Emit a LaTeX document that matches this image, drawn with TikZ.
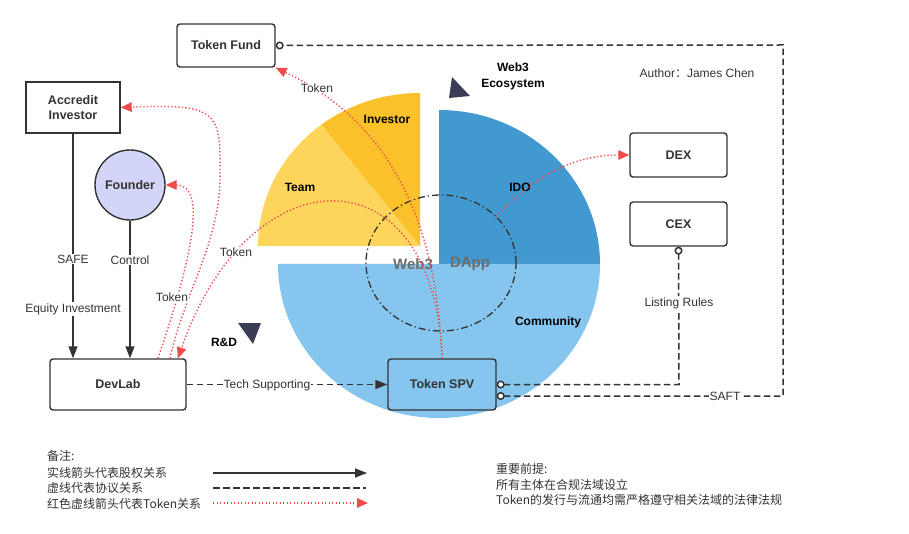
\documentclass[tikz,border=0pt]{standalone}
\usepackage{fontspec}
\setmainfont{Liberation Sans}
\newfontfamily\cjk{Noto Sans CJK SC}
\usetikzlibrary{arrows.meta,shapes.geometric}
\definecolor{ink}{HTML}{333333}
\definecolor{tokred}{HTML}{EE4B4B}
\definecolor{teamc}{HTML}{FDD55B}
\definecolor{invc}{HTML}{FBC12B}
\definecolor{idoc}{HTML}{4299CF}
\definecolor{comc}{HTML}{85C5EE}
\definecolor{tric}{HTML}{3A3D55}
\definecolor{founderc}{HTML}{D2D5F7}
\definecolor{webgray}{HTML}{6B6B6B}
\begin{document}
\begin{tikzpicture}[x=1pt,y=-1pt,
  box/.style={draw=ink, line width=1.4pt, rounded corners=3pt, fill=white, inner sep=0pt,
    font=\fontsize{12.5}{15}\selectfont\bfseries, text=ink, align=center},
  sqbox/.style={box, rounded corners=0pt},
  lbl/.style={font=\fontsize{12}{14}\selectfont, text=ink, fill=white, inner sep=1pt},
  pielbl/.style={font=\fontsize{12}{16}\selectfont\bfseries, text=black, align=center},
  own/.style={draw=ink, line width=1.4pt, -{Triangle[length=12pt,width=9pt]}},
  agree/.style={draw=ink, line width=1.5pt, dash pattern=on 6.5pt off 3.5pt},
  tok/.style={draw=tokred, line width=1.4pt, dash pattern=on 1.3pt off 2.2pt, -{Triangle[length=11pt,width=9.5pt]}},
  note/.style={font=\cjk\fontsize{12}{15}\selectfont, text=ink, anchor=west, inner sep=0pt}
]
\useasboundingbox (0,0) rectangle (909,534);
% ---- pie ----
\fill[teamc] (420,246) -- ++(-162pt,0pt) arc[start angle=180,end angle=127.5,x radius=162pt,y radius=153pt] -- cycle;
\fill[invc] (420,246) -- ++(127.5:162pt and 153pt) arc[start angle=127.5,end angle=90,x radius=162pt,y radius=153pt] -- cycle;
\fill[idoc] (439,264) -- ++(0pt,154pt) arc[start angle=90,end angle=0,x radius=161pt,y radius=154pt] -- cycle;
\fill[comc] (439,264) -- ++(161pt,0pt) arc[start angle=0,end angle=-180,x radius=161pt,y radius=154pt] -- cycle;
\node[ellipse, draw=ink, line width=1.3pt, dash pattern=on 7pt off 3pt on 1.3pt off 3pt,
  minimum width=150pt, minimum height=136pt, inner sep=0pt] (dapp) at (441,263) {};
\node[font=\fontsize{15}{18}\selectfont\bfseries, text=webgray] (w3) at (413,264) {Web3};
\node[font=\fontsize{15}{18}\selectfont\bfseries, text=webgray] (dapplbl) at (470,264) {DApp};
\node[pielbl] (linv) at (387,119) {Investor};
\node[pielbl] (lteam) at (300,187) {Team};
\node[pielbl] (lido) at (520,187) {IDO};
\node[pielbl] (lcom) at (548,322) {Community};
% triangles
\fill[tric] (452,77) -- (449,98) -- (470,96) -- cycle;
\fill[tric] (238,323) -- (261,323) -- (253,344) -- cycle;
\node[pielbl] (eco) at (513,76) {Web3\\Ecosystem};
\node[pielbl] (rd) at (224,342) {R\&D};
\node[font=\fontsize{12}{14}\selectfont, text=ink] (author) at (697,73) {Author{\cjk ：}James Chen};
% ---- boxes ----
\node[box, minimum width=98pt, minimum height=43pt] (tf) at (226,45.5) {Token Fund};
\node[sqbox, minimum width=94pt, minimum height=51pt] (ai) at (73,107.5) {Accredit\\Investor};
\node[circle, draw=ink, line width=1.4pt, fill=founderc, minimum size=70pt, inner sep=0pt,
  font=\fontsize{12.5}{15}\selectfont\bfseries, text=ink] (founder) at (130,185) {Founder};
\node[box, minimum width=136pt, minimum height=51pt] (devlab) at (118,384.5) {DevLab};
\node[box, fill=comc, minimum width=108pt, minimum height=51pt] (spv) at (442,384.5) {Token SPV};
\node[box, minimum width=97pt, minimum height=44pt] (dex) at (678.5,155) {DEX};
\node[box, minimum width=97pt, minimum height=44pt] (cex) at (678.5,224) {CEX};
% ---- equity ----
\draw[own] (ai.south) -- (ai.south |- devlab.north);
\draw[own] (founder.south) -- (founder.south |- devlab.north);
\node[lbl] (lsafe) at (73,259) {SAFE};
\node[lbl] (lequity) at (73,309) {Equity Investment};
\node[lbl] (lcontrol) at (130,260) {Control};
% ---- agreements ----
\draw[agree, -{Triangle[length=12pt,width=9pt]}] (devlab.east) -- (spv.west);
\node[lbl] (ltech) at (267,385) {Tech Supporting};
\coordinate (spvB) at ([yshift=-11.5pt]spv.east);
\coordinate (saftc) at (783,396);
\coordinate (tfc) at (783,45);
\draw[agree, {Circle[length=8pt,width=8pt,fill=white]}-{Circle[length=8pt,width=8pt,fill=white]}]
  (spvB) -- (saftc) -- (tfc) -- (tf.east);
\node[lbl] (lsaft) at (725,396) {SAFT};
\coordinate (lrc) at (679,384.5);
\draw[agree, {Circle[length=8pt,width=8pt,fill=white]}-{Circle[length=8pt,width=8pt,fill=white]}]
  (spv.east) -- (lrc) -- (cex.south);
\node[lbl] (llist) at (679,303) {Listing Rules};
% ---- token flows ----
\coordinate (dv1) at ([xshift=40pt]devlab.north);
\coordinate (dv2) at ([xshift=52pt]devlab.north);
\coordinate (dv3) at ([xshift=60pt]devlab.north);
\draw[tok] (spv.north) .. controls (436,200) and (375,115) .. (tf.south east);
\draw[tok] (spv.north) .. controls (435,150) and (250,150) .. (dv3);
\draw[tok] (dv2) .. controls (185,290) and (222,240) .. (220,170) .. controls (221,110) and (214,104) .. (ai.east);
\draw[tok] (dv1) .. controls (188,270) and (210,185) .. (founder.east);
\draw[tok] (dapp.40) .. controls (530,180) and (570,155) .. (dex.west);
\node[lbl] (ltok1) at (317,88) {Token};
\node[lbl] (ltok2) at (236,252) {Token};
\node[lbl] (ltok3) at (172,297) {Token};
% ---- legend ----
\node[note] (leg0) at (47,456) {备注:};
\node[note] (leg1) at (47,472.5) {实线箭头代表股权关系};
\node[note] (leg2) at (47,488) {虚线代表协议关系};
\node[note] (leg3) at (47,503.5) {红色虚线箭头代表Token关系};
\coordinate (la1) at (213,473); \coordinate (la2) at (367,473);
\coordinate (lb1) at (213,488); \coordinate (lb2) at (366,488);
\coordinate (lc1) at (213,503); \coordinate (lc2) at (368,503);
\draw[own] (la1) -- (la2);
\draw[agree] (lb1) -- (lb2);
\draw[tok] (lc1) -- (lc2);
\node[note] (rn0) at (496,469) {重要前提:};
\node[note] (rn1) at (496,484.5) {所有主体在合规法域设立};
\node[note] (rn2) at (496,500) {Token的发行与流通均需严格遵守相关法域的法律法规};
\end{tikzpicture}
\end{document}
